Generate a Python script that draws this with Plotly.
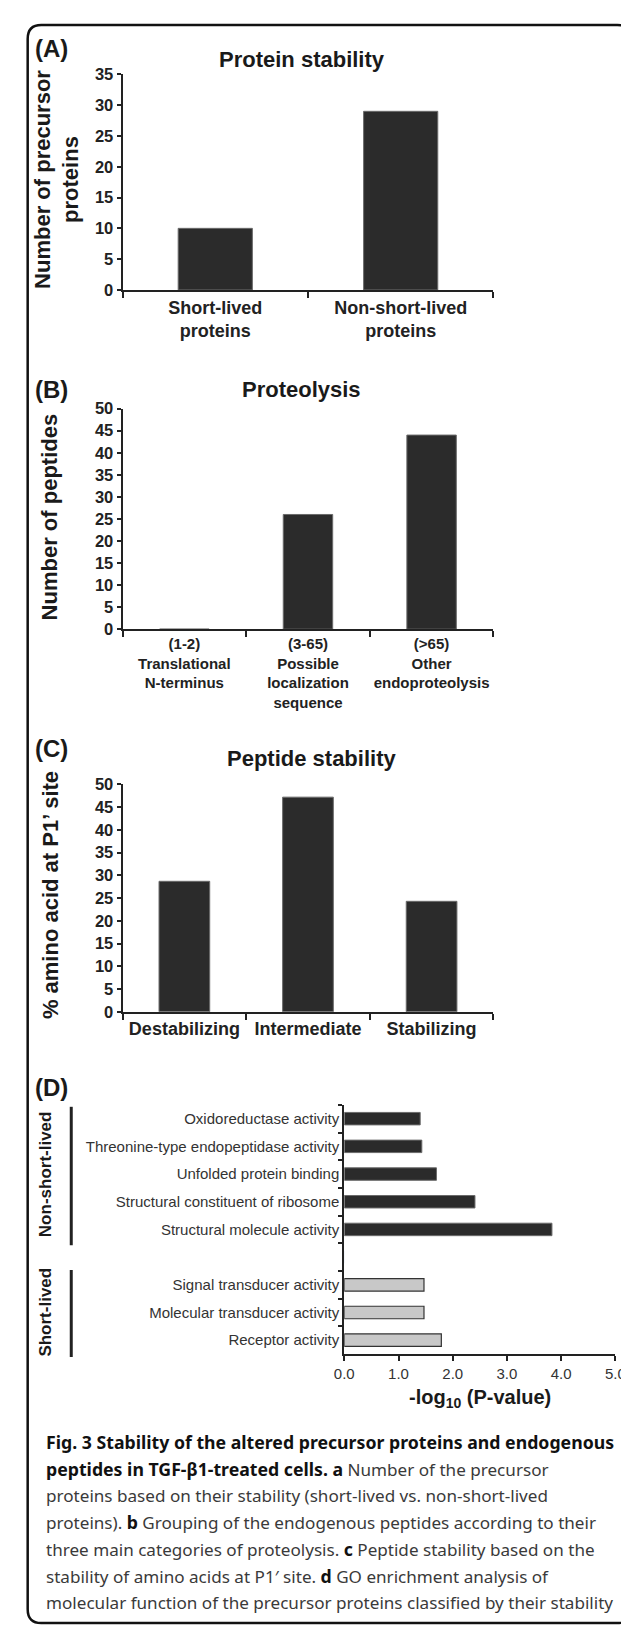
import plotly.graph_objects as go

W, H = 629, 1626

# ---------------- data ----------------
a_categories = ["Short-lived<br>proteins", "Non-short-lived<br>proteins"]
a_values = [10, 29]

b_categories = ["(1-2)<br>Translational<br>N-terminus",
                "(3-65)<br>Possible<br>localization<br>sequence",
                "(>65)<br>Other<br>endoproteolysis"]
b_values = [0, 26, 44]

c_categories = ["Destabilizing", "Intermediate", "Stabilizing"]
c_values = [28.7, 47.2, 24.3]

d_nonshort_terms = ["Oxidoreductase activity", "Threonine-type endopeptidase activity",
                    "Unfolded protein binding", "Structural constituent of ribosome",
                    "Structural molecule activity"]
d_nonshort_values = [1.40, 1.43, 1.70, 2.41, 3.83]
d_short_terms = ["Signal transducer activity", "Molecular transducer activity", "Receptor activity"]
d_short_values = [1.47, 1.47, 1.79]
d_gap = " "
d_xticks = [0, 1, 2, 3, 4, 5]

caption_lines = [
    "<b>Fig. 3 Stability of the altered precursor proteins and endogenous</b>",
    "<b>peptides in TGF-β1-treated cells. a</b> Number of the precursor",
    "proteins based on their stability (short-lived vs. non-short-lived",
    "proteins). <b>b</b> Grouping of the endogenous peptides according to their",
    "three main categories of proteolysis. <b>c</b> Peptide stability based on the",
    "stability of amino acids at P1′ site. <b>d</b> GO enrichment analysis of",
    "molecular function of the precursor proteins classified by their stability",
]

# ---------------- helpers ----------------
def px(x):
    return x / W

def py(y):
    return 1 - y / H

ARIAL = "Liberation Sans, Arial, sans-serif"
CAPFONT = "Noto Sans, Open Sans, sans-serif"
AX = "#222222"
DARK = "#2b2b2b"
LIGHT = "#c8c8c8"

fig = go.Figure()

fig.add_trace(go.Bar(x=a_categories, y=a_values, width=0.4, xaxis="x", yaxis="y",
                     marker=dict(color=DARK, line=dict(color="#6a6a6a", width=1))))
fig.add_trace(go.Bar(x=b_categories, y=b_values, width=0.4, xaxis="x2", yaxis="y2",
                     marker=dict(color=DARK, line=dict(color="#6a6a6a", width=1))))
fig.add_trace(go.Bar(x=c_categories, y=c_values, width=0.41, xaxis="x3", yaxis="y3",
                     marker=dict(color=DARK, line=dict(color="#6a6a6a", width=1))))
fig.add_trace(go.Bar(y=d_nonshort_terms, x=d_nonshort_values, orientation="h", width=0.45,
                     xaxis="x4", yaxis="y4",
                     marker=dict(color=DARK, line=dict(color="#6a6a6a", width=1))))
fig.add_trace(go.Bar(y=[d_gap], x=[0], orientation="h", width=0.45, xaxis="x4", yaxis="y4",
                     marker=dict(color="rgba(0,0,0,0)"), hoverinfo="skip"))
fig.add_trace(go.Bar(y=d_short_terms, x=d_short_values, orientation="h", width=0.45,
                     xaxis="x4", yaxis="y4",
                     marker=dict(color=LIGHT, line=dict(color="#333333", width=1.2))))

d_order = d_nonshort_terms + [d_gap] + d_short_terms


def cat_xaxis(anchor, font_size, ncat):
    return dict(domain=[px(108), px(491)], anchor=anchor, type="category",
                range=[-0.5, ncat - 0.5], tickangle=0,
                showline=True, linewidth=2, linecolor=AX, ticks="outside",
                tickson="boundaries", ticklen=6, tickwidth=1.5, tickcolor=AX,
                tickfont=dict(family=ARIAL, size=font_size, color=AX, weight="bold"),
                showgrid=False, zeroline=False, fixedrange=True)


def val_yaxis(anchor, top, bottom, rmax):
    return dict(domain=[py(bottom), py(top)], anchor=anchor, range=[0, rmax], dtick=5,
                showline=True, linewidth=2, linecolor=AX, ticks="outside",
                ticklen=4, tickwidth=1.5, tickcolor=AX, showgrid=False, zeroline=False,
                tickfont=dict(family=ARIAL, size=16.5, color=AX, weight="bold"))


fig.update_layout(
    width=W, height=H, margin=dict(l=0, r=0, t=0, b=0),
    paper_bgcolor="white", plot_bgcolor="white", showlegend=False,
    xaxis=cat_xaxis("y", 18, 2), yaxis=val_yaxis("x", 58, 276, 35),
    xaxis2=cat_xaxis("y2", 15, 3), yaxis2=val_yaxis("x2", 396, 619, 50),
    xaxis3=cat_xaxis("y3", 18, 3), yaxis3=val_yaxis("x3", 776, 1006, 50),
    xaxis4=dict(domain=[px(337), px(617)], anchor="y4", range=[0, 5],
                tickvals=d_xticks, tickformat=".1f", tickangle=0, showline=True, linewidth=2,
                linecolor=AX, ticks="outside", ticklen=5, tickwidth=1.5, tickcolor=AX,
                showgrid=False, zeroline=False,
                tickfont=dict(family=ARIAL, size=15, color="#333333")),
    yaxis4=dict(domain=[py(1352), py(1100)], anchor="x4", type="category",
                categoryorder="array", categoryarray=d_order, range=[8.5, -0.5],
                showline=True, linewidth=2, linecolor=AX, ticks="outside",
                tickson="boundaries", ticklen=4, tickwidth=1.5, tickcolor=AX,
                showgrid=False, zeroline=False,
                tickfont=dict(family=ARIAL, size=15, color="#333333")),
)

ann = []


def text(x, y, s, size, bold=True, angle=0, xanchor="center", color="#1a1a1a", family=ARIAL):
    ann.append(dict(x=px(x), y=py(y), xref="paper", yref="paper", text=s, showarrow=False,
                    xanchor=xanchor, yanchor="middle", textangle=angle,
                    font=dict(family=family, size=size, color=color,
                              weight="bold" if bold else "normal")))


# panel letters
text(35, 32, "(A)", 24)
text(35, 377, "(B)", 24)
text(35, 740, "(C)", 24)
text(35, 1082, "(D)", 24)

# panel titles
text(293, 43, "Protein stability", 22)
text(293, 377, "Proteolysis", 22)
text(303, 750, "Peptide stability", 22)

# y axis titles
text(40, 164, "Number of precursor<br>proteins", 22, angle=-90)
text(32, 505, "Number of peptides", 22, angle=-90)
text(33, 888, "% amino acid at P1’ site", 22, angle=-90)

# panel D labels
text(28, 1170, "Non-short-lived", 17, angle=-90)
text(28, 1310, "Short-lived", 17, angle=-90)
text(477, 1397, "-log<sub>10</sub> (P-value)", 20)

# caption
for i, line in enumerate(caption_lines):
    styled = line.replace("<b>", '<b><span style="font-size:17.7px;color:#111111">') \
                 .replace("</b>", "</span></b>")
    text(27, 1441 + 27 * i, styled, 17.1, bold=False, xanchor="left", color="#3a3a3a",
         family=CAPFONT)

fig.update_layout(annotations=ann)


def rounded_rect(x0, y0, x1, y1, r):
    def P(x, y):
        return f"{px(x):.5f},{py(y):.5f}"
    return (f"M {P(x0 + r, y0)} L {P(x1 - r, y0)} Q {P(x1, y0)} {P(x1, y0 + r)} "
            f"L {P(x1, y1 - r)} Q {P(x1, y1)} {P(x1 - r, y1)} "
            f"L {P(x0 + r, y1)} Q {P(x0, y1)} {P(x0, y1 - r)} "
            f"L {P(x0, y0 + r)} Q {P(x0, y0)} {P(x0 + r, y0)} Z")


shapes = [
    dict(type="path", xref="paper", yref="paper", path=rounded_rect(10, 8, 633, 1624, 14),
         line=dict(color="#111111", width=2.5), layer="below"),
    dict(type="line", xref="paper", yref="paper", x0=px(55), x1=px(55), y0=py(1102), y1=py(1242),
         line=dict(color=AX, width=3)),
    dict(type="line", xref="paper", yref="paper", x0=px(55), x1=px(55), y0=py(1267), y1=py(1355),
         line=dict(color=AX, width=3)),
]
fig.update_layout(shapes=shapes)

fig.write_html("out.html")
